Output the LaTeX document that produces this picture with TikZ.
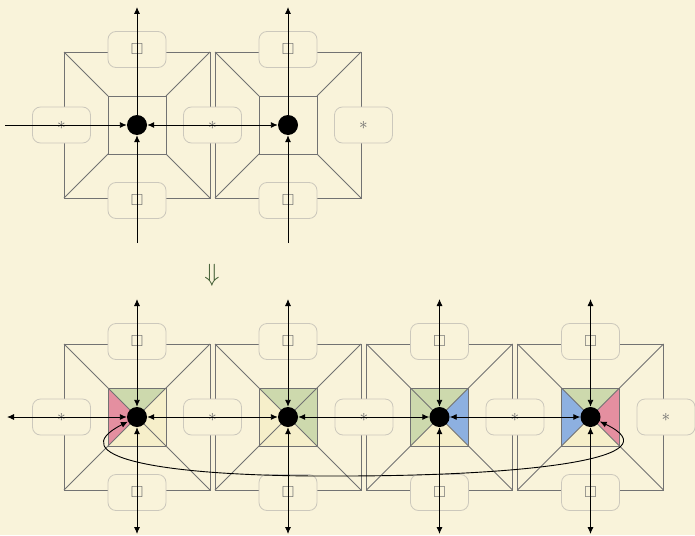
\documentclass[tikz,border=0pt]{standalone}
\usepackage{amssymb}
\usetikzlibrary{arrows.meta}
\definecolor{bg}{HTML}{F9F3DA}
\definecolor{tgreen}{HTML}{CDD9AD}
\definecolor{tpink}{HTML}{E48FA0}
\definecolor{tblue}{HTML}{8DB0E0}
\definecolor{tyel}{HTML}{F6EFCA}
\definecolor{sqline}{HTML}{727272}
\definecolor{lblline}{HTML}{CCC8BC}
\definecolor{lbltext}{HTML}{6A6A6A}
\definecolor{dgreen}{HTML}{3E5A30}
\tikzset{
  sq/.style={draw=sqline, line width=0.75pt},
  lbl/.style={draw=lblline, fill=bg, rounded corners=8pt, minimum width=58pt, minimum height=36pt, inner sep=0pt, line width=0.8pt, text=lbltext, font=\fontsize{16}{16}\selectfont},
  dotnode/.style={circle, fill=black, minimum size=20pt, inner sep=0pt},
  arr/.style={line width=0.9pt, -{Latex[length=7pt,width=6pt]}},
  darr/.style={line width=0.9pt, {Latex[length=7pt,width=6pt]}-{Latex[length=7pt,width=6pt]}},
}
\newcommand\plaintile[1]{%
  \begin{scope}[shift={(#1)}]
    \draw[sq] (-73,-73) rectangle (73,73);
    \draw[sq] (-29,-29) rectangle (29,29);
    \draw[sq] (-73,-73) -- (-29,-29) (73,-73) -- (29,-29) (73,73) -- (29,29) (-73,73) -- (-29,29);
  \end{scope}}
\newcommand\colortile[5]{%
  \begin{scope}[shift={(#1)}]
    \fill[#2] (-29,-29) -- (29,-29) -- (0,0) -- cycle;
    \fill[#3] (-29,-29) -- (-29,29) -- (0,0) -- cycle;
    \fill[#4] (29,-29) -- (29,29) -- (0,0) -- cycle;
    \fill[#5] (-29,29) -- (29,29) -- (0,0) -- cycle;
    \draw[sq] (-73,-73) rectangle (73,73);
    \draw[sq] (-29,-29) rectangle (29,29);
    \draw[sq] (-73,-73) -- (73,73) (73,-73) -- (-73,73);
  \end{scope}}
\newcommand\sqsym{\raisebox{-1.5pt}{$\square$}}
\newcommand\astsym{\raisebox{-1pt}{$\ast$}}
\begin{document}
\begin{tikzpicture}[x=1pt,y=-1pt]
\fill[bg] (0,0) rectangle (695,535);
\useasboundingbox (0,0) rectangle (695,535);
% top row squares
\plaintile{137,125}
\plaintile{288,125}
% bottom row squares
\colortile{137,417}{tgreen}{tpink}{tyel}{tyel}
\colortile{288,417}{tgreen}{tyel}{tgreen}{tyel}
\colortile{439.5,417}{tgreen}{tgreen}{tblue}{tyel}
\colortile{590.5,417}{tgreen}{tblue}{tpink}{tyel}
% labels top row
\node[lbl] (lt1t) at (137,49.5) {\sqsym};
\node[lbl] (lt1b) at (137,200.5) {\sqsym};
\node[lbl] (lt1l) at (61.5,125) {\astsym};
\node[lbl] (lt2t) at (288,49.5) {\sqsym};
\node[lbl] (lt2b) at (288,200.5) {\sqsym};
\node[lbl] (lt2l) at (212.5,125) {\astsym};
\node[lbl] (lt2r) at (363.5,125) {\astsym};
% labels bottom row
\foreach \cx/\nm in {137/1,288/2,439.5/3,590.5/4}{
  \node[lbl] (lb\nm t) at (\cx,341.5) {\sqsym};
  \node[lbl] (lb\nm b) at (\cx,492.5) {\sqsym};
  \node[lbl] (lb\nm l) at (\cx-75.5,417) {\astsym};
}
\node[lbl] (lb4r) at (666,417) {\astsym};
% dots
\node[dotnode] (t1) at (137,125) {};
\node[dotnode] (t2) at (288,125) {};
\node[dotnode] (b1) at (137,417) {};
\node[dotnode] (b2) at (288,417) {};
\node[dotnode] (b3) at (439.5,417) {};
\node[dotnode] (b4) at (590.5,417) {};
% free ends
\coordinate (tL) at (5,125);
\coordinate (t1up) at (137,7);
\coordinate (t1dn) at (137,243);
\coordinate (t2up) at (288,7);
\coordinate (t2dn) at (288,243);
\coordinate (bL) at (7,417);
\foreach \cx/\nm in {137/1,288/2,439.5/3,590.5/4}{
  \coordinate (b\nm up) at (\cx,299);
  \coordinate (b\nm dn) at (\cx,534);
}
% top row arrows
\draw[arr] (tL) -- (t1);
\draw[arr] (t1) -- (t1up);
\draw[arr] (t1dn) -- (t1);
\draw[darr] (t1) -- (t2);
\draw[arr] (t2) -- (t2up);
\draw[arr] (t2dn) -- (t2);
% bottom row arrows
\draw[darr] (bL) -- (b1);
\foreach \nm in {1,2,3,4}{
  \draw[darr] (b\nm up) -- (b\nm);
  \draw[darr] (b\nm dn) -- (b\nm);
}
\draw[darr] (b1) -- (b2);
\draw[darr] (b2) -- (b3);
\draw[darr] (b3) -- (b4);
\draw[darr] (b1) .. controls (62,455) and (150,477) .. (340,476) .. controls (530,476) and (676,458) .. (b4);
% transition arrow
\node[text=dgreen, font=\fontsize{23}{23}\selectfont] (tr) at (212,275) {$\Downarrow$};
\end{tikzpicture}
\end{document}
